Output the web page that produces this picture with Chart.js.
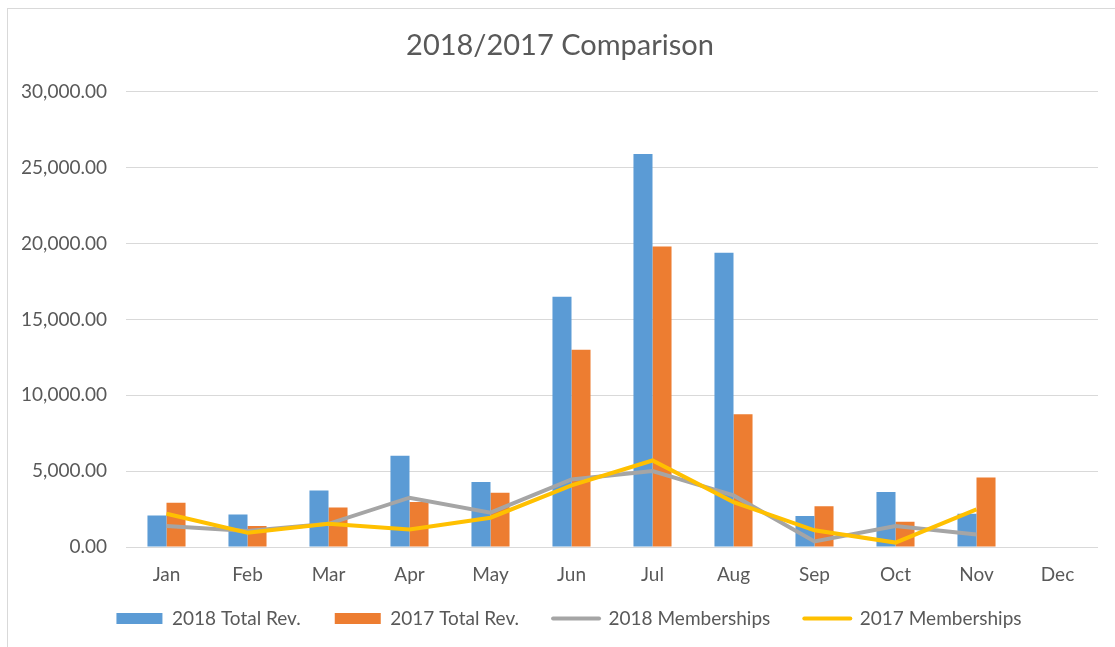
<!DOCTYPE html>
<html>
<head>
<meta charset="utf-8">
<script src="https://cdn.jsdelivr.net/npm/chart.js@4"></script>
<style>
	body { margin: 0; background: #fff; }
	#frame {
		position: absolute; left: 7px; top: 8px; width: 1120px; height: 650px;
		border-left: 1px solid #d9d9d9; border-top: 1px solid #d9d9d9;
	}
	#wrap { position: absolute; left: 0; top: 0; width: 1115px; height: 647px; }
</style>
</head>
<body>
<div id="frame"></div>
<div id="wrap"><canvas id="compChart"></canvas></div>
<script>
const months = ["Jan", "Feb", "Mar", "Apr", "May", "Jun", "Jul", "Aug", "Sep", "Oct", "Nov", "Dec"];
const rev2018 = [2080, 2150, 3730, 6010, 4280, 16500, 25900, 19400, 2040, 3620, 2190, null];
const rev2017 = [2920, 1380, 2610, 2960, 3570, 13000, 19800, 8750, 2680, 1670, 4580, null];
const members2018 = [1380, 1050, 1530, 3250, 2260, 4450, 5000, 3400, 370, 1380, 830, null];
const members2017 = [2190, 940, 1530, 1160, 1930, 4060, 5700, 2960, 1100, 290, 2480, null];
const yTicks = [0, 5000, 10000, 15000, 20000, 25000, 30000];

const textColor = "#595959";
Chart.defaults.font.family = "Lato, 'Open Sans', sans-serif";
Chart.defaults.color = textColor;

/*number format like 25,000.00*/
function money(v) {
	return v.toLocaleString("en-US", { minimumFractionDigits: 2, maximumFractionDigits: 2 });
}

/*legend sits closer to the month labels than chart.js would put it*/
const legendNudge = {
	id: "legendNudge",
	afterLayout(chart) {
		const lg = chart.legend;
		lg.top -= 14;
		lg.bottom -= 14;
		lg.left += 9;
		lg.right += 9;
	}
};

const ctx = document.getElementById("compChart").getContext("2d");
const compChart = new Chart(ctx, {
	type: "bar",
	data: {
		labels: months,
		datasets: [
			{
				label: "2018 Total Rev.",
				data: rev2018,
				backgroundColor: "#5B9BD5",
				order: 2
			},
			{
				label: "2017 Total Rev.",
				data: rev2017,
				backgroundColor: "#ED7D31",
				order: 2
			},
			{
				type: "line",
				label: "2018 Memberships",
				data: members2018,
				borderColor: "#A5A5A5",
				backgroundColor: "#A5A5A5",
				borderWidth: 4,
				pointRadius: 0,
				tension: 0,
				order: 1
			},
			{
				type: "line",
				label: "2017 Memberships",
				data: members2017,
				borderColor: "#FFC000",
				backgroundColor: "#FFC000",
				borderWidth: 4,
				pointRadius: 0,
				tension: 0,
				order: 0
			}
		]
	},
	plugins: [legendNudge],
	options: {
		responsive: true,
		maintainAspectRatio: false,
		animation: false,
		datasets: {
			bar: { barPercentage: 1, categoryPercentage: 0.47, borderWidth: 0 }
		},
		layout: { padding: { left: 22, right: 17, top: 28, bottom: -5 } },
		plugins: {
			tooltip: { enabled: false },
			title: {
				display: true,
				text: "2018/2017 Comparison",
				color: textColor,
				font: { size: 29, weight: "normal" },
				padding: { top: 0, bottom: 29 }
			},
			legend: {
				position: "bottom",
				labels: {
					color: textColor,
					font: { size: 19 },
					usePointStyle: true,
					pointStyleWidth: 46,
					boxHeight: 11,
					padding: 34,
					sort: (a, b) => a.datasetIndex - b.datasetIndex,
					generateLabels: chart => chart.data.datasets.map((ds, i) => ({
						text: ds.label,
						datasetIndex: i,
						fillStyle: ds.backgroundColor,
						strokeStyle: ds.type === "line" ? ds.borderColor : ds.backgroundColor,
						lineWidth: ds.type === "line" ? 4 : 0,
						lineCap: "round",
						pointStyle: ds.type === "line" ? "line" : "rect",
						fontColor: textColor,
						hidden: false
					}))
				}
			}
		},
		scales: {
			x: {
				grid: { display: false, drawTicks: false },
				border: { display: false },
				ticks: { font: { size: 19 }, color: textColor, padding: 16 },
				afterFit: axis => { axis.height = 42; }
			},
			y: {
				min: 0,
				max: 30000,
				afterBuildTicks: axis => { axis.ticks = yTicks.map(v => ({ value: v })); },
				afterFit: axis => { axis.width = 104; },
				grid: { color: "#d9d9d9", lineWidth: 1, drawTicks: false },
				border: { display: false },
				ticks: {
					font: { size: 19 },
					color: textColor,
					padding: 19,
					callback: v => money(v)
				}
			}
		}
	}
});
</script>
</body>
</html>
